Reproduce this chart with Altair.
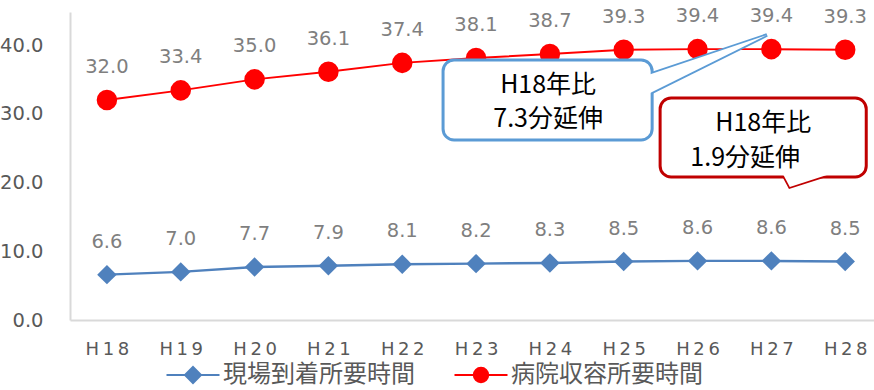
import json
import altair as alt
import pandas as pd

# ---- data -------------------------------------------------------------
years = ["H18", "H19", "H20", "H21", "H22", "H23", "H24", "H25", "H26", "H27", "H28"]
onsite_minutes = [6.6, 7.0, 7.7, 7.9, 8.1, 8.2, 8.3, 8.5, 8.6, 8.6, 8.5]
hospital_minutes = [32.0, 33.4, 35.0, 36.1, 37.4, 38.1, 38.7, 39.3, 39.4, 39.4, 39.3]
series_names = ["現場到着所要時間", "病院収容所要時間"]
series_colors = ["#4f81bd", "#ff0000"]

callout_lines = [["H18年比", "7.3分延伸"], ["H18年比", "1.9分延伸"]]

rows = []
for i, yr in enumerate(years):
    rows.append({"idx": i, "year": yr, "series": series_names[0], "value": onsite_minutes[i]})
    rows.append({"idx": i, "year": yr, "series": series_names[1], "value": hospital_minutes[i]})
df = pd.DataFrame(rows)

# ---- layout -----------------------------------------------------------
W, H = 804, 308
x_scale = alt.Scale(domain=[-0.5, 10.39], nice=False, zero=False)
y_scale = alt.Scale(domain=[0, 44.8], nice=False)

spaced = ["\u2009".join(y) for y in years]
label_expr = json.dumps(spaced, ensure_ascii=False) + "[datum.value]"

x_axis = alt.Axis(
    values=list(range(len(years))), labelExpr=label_expr, title=None,
    grid=False, ticks=False, domainColor="#d9d9d9", domainWidth=2,
    labelFont="DejaVu Sans", labelFontSize=18, labelColor="#595959",
    labelPadding=20,
)
y_axis = alt.Axis(
    values=[0, 10, 20, 30, 40], format=".1f", title=None,
    grid=False, ticks=False, domainColor="#d9d9d9", domainWidth=2,
    labelFont="DejaVu Sans", labelFontSize=19.5, labelColor="#595959",
    labelPadding=27,
)

X = alt.X("idx:Q", scale=x_scale, axis=x_axis)
Y = alt.Y("value:Q", scale=y_scale, axis=y_axis)
X2 = alt.X2("idx2:Q")
Y2 = alt.Y2("value2:Q")

base = alt.Chart(df)


def series_layers(k, shape, size, line_w):
    sub = base.transform_filter(alt.datum.series == series_names[k])
    line = sub.mark_line(strokeWidth=line_w, color=series_colors[k]).encode(x=X, y=Y)
    pts = sub.mark_point(
        filled=True, opacity=1, shape=shape, size=size, color=series_colors[k]
    ).encode(x=X, y=Y)
    return line + pts


blue = series_layers(0, "diamond", 380, 2.5)
red = series_layers(1, "circle", 420, 2)

labels = base.mark_text(
    dy=-27, baseline="alphabetic", font="DejaVu Sans", fontSize=19.5, color="#7f7f7f"
).encode(x=X, y=Y, text=alt.Text("value:Q", format=".1f"))

# ---- legend: a short line with the series marker on it ------------------
blue_sym = "M-2.65,0L2.65,0M0,-0.8L0.8,0L0,0.8L-0.8,0Z"
red_sym = "M-2.65,0L2.65,0M-0.72,0A0.72,0.72,0,1,0,0.72,0A0.72,0.72,0,1,0,-0.72,0Z"

legend = alt.Legend(
    title=None, orient="none", direction="horizontal", legendX=95, legendY=351,
    labelFont="Noto Sans CJK JP", labelFontSize=24, labelColor="#595959", labelLimit=400,
    symbolSize=400, symbolStrokeWidth=2, symbolOpacity=1,
    symbolOffset=16, labelOffset=18, columnPadding=35,
)
legend_key = base.transform_filter("false").mark_point(
    filled=True, opacity=1, strokeWidth=2, size=400
).encode(
    x=X, y=Y,
    fill=alt.Fill("series:N", scale=alt.Scale(domain=series_names, range=series_colors), legend=legend),
    stroke=alt.Stroke("series:N", scale=alt.Scale(domain=series_names, range=series_colors), legend=legend),
    shape=alt.Shape("series:N", scale=alt.Scale(domain=series_names, range=[blue_sym, red_sym]), legend=legend),
)

# ---- callouts (positions in data units) -------------------------------
def callout(box, tail, texts, stroke):
    box_df = pd.DataFrame([box])
    tail_df = pd.DataFrame(tail)
    text_df = pd.DataFrame(texts)
    tail_out = alt.Chart(tail_df).mark_area(
        fill="white", stroke=stroke, strokeWidth=3.5, opacity=1, interpolate="linear"
    ).encode(x=X, y=Y, y2=Y2)
    rect = alt.Chart(box_df).mark_rect(
        fill="white", stroke=stroke, strokeWidth=3, cornerRadius=11
    ).encode(x=X, x2=X2, y=Y, y2=Y2)
    tail_in = alt.Chart(tail_df).mark_area(
        fill="white", opacity=1, interpolate="linear"
    ).encode(x=X, y=Y, y2=Y2)
    txt = alt.Chart(text_df).mark_text(
        font="Noto Sans CJK JP", fontSize=25, color="#000000", baseline="middle", align="center"
    ).encode(x=X, y=Y, text="t:N")
    return tail_out + rect + tail_in + txt


c1 = callout(
    {"idx": 4.553, "idx2": 7.385, "value": 37.82, "value2": 26.18},
    [{"idx": 7.35, "value": 35.71, "value2": 32.97}, {"idx": 8.94, "value": 41.45, "value2": 41.45}],
    [{"idx": 5.976, "value": 34.18, "t": callout_lines[0][0]},
     {"idx": 5.976, "value": 29.24, "t": callout_lines[0][1]}],
    "#5b9bd5",
)
c2 = callout(
    {"idx": 7.493, "idx2": 10.285, "value": 32.29, "value2": 20.80},
    [{"idx": 9.156, "value": 21.24, "value2": 21.24}, {"idx": 9.25, "value": 21.24, "value2": 19.35},
     {"idx": 9.793, "value": 21.24, "value2": 21.24}],
    [{"idx": 8.89, "value": 28.65, "t": callout_lines[1][0]},
     {"idx": 8.645, "value": 23.56, "t": callout_lines[1][1]}],
    "#c00000",
)

chart = alt.layer(blue, red, labels, legend_key, c1, c2).properties(
    width=W, height=H,
    autosize=alt.AutoSizeParams(type="none"),
    padding={"left": 70, "top": 12, "right": 0, "bottom": 70},
    background="white",
).configure_view(stroke=None)

chart.save("out.html", embed_options={"renderer": "svg", "actions": False})
